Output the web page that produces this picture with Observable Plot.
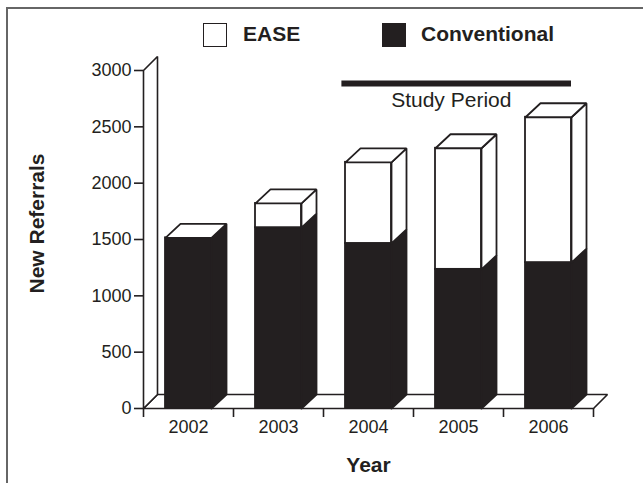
<!DOCTYPE html>
<html><head><meta charset="utf-8">
<script src="https://cdn.jsdelivr.net/npm/d3@7"></script>
<script src="https://cdn.jsdelivr.net/npm/@observablehq/plot@0.6"></script>
<style>
body{margin:0;background:#fff;font-family:"Liberation Sans",Arial,sans-serif;color:#231f20;}
#wrap{position:relative;width:643px;height:483px;overflow:hidden;background:#fff;}
#frame{position:absolute;left:6px;top:7px;right:-10px;bottom:-10px;border-left:2px solid #666;border-top:2px solid #666;pointer-events:none;}
#legend{position:relative;height:45px;}
.sw{position:absolute;top:23px;width:22px;height:22px;border:1.5px solid #231f20;}
.lb{position:absolute;top:21px;line-height:25px;font-size:21px;font-weight:bold;}
#chart svg{display:block;}
</style></head><body>
<div id="wrap"><div id="frame"></div>
<div id="legend"></div>
<div id="chart"></div></div>
<script>
// ---- data ----
const years = [2002, 2003, 2004, 2005, 2006];
const conventional = [1515, 1605, 1465, 1235, 1295];
const ease = [0, 215, 720, 1075, 1290];
const seriesNames = ["EASE", "Conventional"];
const seriesColors = ["#ffffff", "#231f20"];
const yTicks = [0, 500, 1000, 1500, 2000, 2500, 3000];
const studyPeriod = {label: "Study Period", from: 2004, to: 2006};
const axisTitles = {x: "Year", y: "New Referrals"};

// ---- layout ----
const ink = "#231f20";
const W = 643, H = 438, mL = 143, mR = 50, mT = 25, mB = 75;
const xDomain = [years[0] - 0.5, years[years.length - 1] + 0.5];
const yDomain = [0, 3000];
const pxX = (xDomain[1] - xDomain[0]) / (W - mL - mR);
const pxY = (yDomain[1] - yDomain[0]) / (H - mT - mB);
const half = 23 * pxX;
const bdx = 15 * pxX, bdy = 14 * pxY;
const wdx = 14 * pxX, wdy = 14 * pxY;

// legend (HTML)
const leg = document.getElementById("legend");
const legPos = [[203, 243], [382, 421]];
seriesNames.forEach((n, i) => {
  const s = document.createElement("div");
  s.className = "sw"; s.style.left = legPos[i][0] + "px"; s.style.background = seriesColors[i];
  leg.appendChild(s);
  const t = document.createElement("div");
  t.className = "lb"; t.style.left = legPos[i][1] + "px"; t.textContent = n;
  leg.appendChild(t);
});

// faces
const fronts = [];
const whitePolys = [], blackPolys = [];
function poly(arr, id, pts) { pts.concat([pts[0]]).forEach(([x, y]) => arr.push({id, x, y})); }
years.forEach((yr, i) => {
  const c = conventional[i], t = c + ease[i];
  const xl = yr - half, xr = yr + half;
  fronts.push({x1: xl, x2: xr, y1: 0, y2: c, fill: seriesColors[1]});
  if (ease[i] > 0) fronts.push({x1: xl, x2: xr, y1: c, y2: t, fill: seriesColors[0]});
  poly(blackPolys, "sc" + yr, [[xr, 0], [xr + bdx, bdy], [xr + bdx, c + bdy], [xr, c]]);
  if (ease[i] > 0) poly(whitePolys, "se" + yr, [[xr, c], [xr + bdx, c + bdy], [xr + bdx, t + bdy], [xr, t]]);
  poly(whitePolys, "top" + yr, [[xl, t], [xr, t], [xr + bdx, t + bdy], [xl + bdx, t + bdy]]);
});
const floorPts = [], wallPts = [];
poly(floorPts, "floor", [[xDomain[0], 0], [xDomain[1], 0], [xDomain[1] + wdx, wdy], [xDomain[0] + wdx, wdy]]);
poly(wallPts, "wall", [[xDomain[0], 0], [xDomain[0], yDomain[1]], [xDomain[0] + wdx, yDomain[1] + wdy], [xDomain[0] + wdx, wdy]]);

const boundaries = years.map(y => y - 0.5).concat([years[years.length - 1] + 0.5]);

const chart = Plot.plot({
  width: W, height: H,
  marginLeft: mL, marginRight: mR, marginTop: mT, marginBottom: mB,
  x: {domain: xDomain, label: null},
  y: {domain: yDomain, label: null},
  color: {type: "identity"},
  style: {fontFamily: "'Liberation Sans', Arial, sans-serif", color: ink, background: "transparent", overflow: "visible"},
  marks: [
    Plot.line(floorPts, {x: "x", y: "y", z: "id", fill: "white", stroke: ink, strokeWidth: 1.6, strokeLinejoin: "miter"}),
    Plot.line(wallPts, {x: "x", y: "y", z: "id", fill: "white", stroke: ink, strokeWidth: 1.6, strokeLinejoin: "miter"}),
    Plot.axisY(yTicks, {tickSize: 9, tickPadding: 3, fontSize: 18, tickFormat: d3.format("d"), stroke: ink, strokeWidth: 1.6, label: null}),
    Plot.axisX(boundaries, {tickSize: 9, tickFormat: () => "", stroke: ink, strokeWidth: 1.6, label: null}),
    Plot.axisX(years, {tickSize: 0, tickPadding: 12, tickFormat: d => String(d), fontSize: 18, label: null}),
    Plot.rect(fronts, {x1: "x1", x2: "x2", y1: "y1", y2: "y2", fill: "fill", stroke: ink, strokeWidth: 1.8}),
    Plot.line(blackPolys, {x: "x", y: "y", z: "id", fill: ink, stroke: ink, strokeWidth: 1.8, strokeLinejoin: "miter"}),
    Plot.line(whitePolys, {x: "x", y: "y", z: "id", fill: "white", stroke: ink, strokeWidth: 1.8, strokeLinejoin: "miter"}),
    Plot.ruleY([2885], {x1: studyPeriod.from - half - 0.04, x2: studyPeriod.to + half, stroke: ink, strokeWidth: 6}),
    Plot.text([studyPeriod], {x: (studyPeriod.from + studyPeriod.to) / 2 - 0.08, y: 2734, text: "label", fontSize: 21, fill: ink}),
    Plot.text([axisTitles.y], {text: d => d, frameAnchor: "left", textAnchor: "middle", rotate: -90, dx: -106, dy: -16, fontSize: 21, fontWeight: "bold", fill: ink}),
    Plot.text([axisTitles.x], {text: d => d, frameAnchor: "bottom", lineAnchor: "middle", dy: 57, fontSize: 21, fontWeight: "bold", fill: ink})
  ]
});
document.getElementById("chart").appendChild(chart);
</script>
</body></html>
